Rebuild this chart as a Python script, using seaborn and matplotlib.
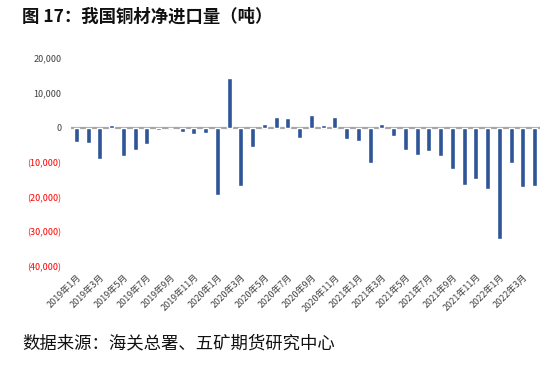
import matplotlib
matplotlib.use("Agg")
import matplotlib.pyplot as plt
import seaborn as sns
import pandas as pd
from matplotlib.ticker import FuncFormatter

months = [f"{y}年{m}月" for y in (2019, 2020, 2021) for m in range(1, 13)] + [f"2022年{m}月" for m in range(1, 5)]
values = [-4000, -4500, -9000, 800, -8100, -6400, -4800, -600, -100, -1300, -1800, -1600,
          -19300, 14300, -16800, -5600, 1000, 3000, 2900, -3000, 3700, 900, 3200, -3300,
          -3800, -10000, 1000, -2300, -6400, -7800, -6700, -8100, -11800, -16400, -14600, -17600,
          -31900, -10200, -17000, -16700]
yticks = [20000, 10000, 0, -10000, -20000, -30000, -40000]

sns.set_theme(style="white")
plt.rcParams['font.family'] = ['Noto Sans CJK SC', 'DejaVu Sans']

df = pd.DataFrame({"month": months, "value": values})

fig = plt.figure(figsize=(5.56, 3.66), dpi=100)
ax = fig.add_axes([0.128, 0.2705, 0.843, 0.571])
sns.barplot(data=df, x="month", y="value", order=months, color="#2E5597",
            width=0.42, saturation=1, ax=ax)
ax.axhline(0, color="#A6A6A6", lw=1.6, zorder=0.5)
ax.set_xlim(-0.45, len(months) - 0.55)
ax.set_ylim(-40000, 20000)
ax.set_yticks(yticks)

def fmt(v, pos):
    if v < 0:
        return f"({abs(int(v)):,})"
    return f"{int(v):,}"
ax.yaxis.set_major_formatter(FuncFormatter(fmt))
for lbl, v in zip(ax.get_yticklabels(), yticks):
    lbl.set_color("#FF0000" if v < 0 else "#404040")
ax.tick_params(axis="y", labelsize=6.5, length=0, pad=7)

ax.set_xticks(range(0, len(months), 2))
ax.set_xticklabels(months[::2], rotation=45, ha="right", rotation_mode="anchor",
                   fontsize=6.5, color="#404040")
ax.tick_params(axis="x", length=0, pad=4)
for s in ax.spines.values():
    s.set_visible(False)
ax.set_xlabel("")
ax.set_ylabel("")

fig.text(0.04, 0.955, "图 17：我国铜材净进口量（吨）", fontsize=12.5, fontweight="bold",
         va="center", ha="left", color="#111111")
fig.text(0.04, 0.062, "数据来源：海关总署、五矿期货研究中心", fontsize=12.5,
         va="center", ha="left", color="#111111")

fig.savefig("out.png", dpi=100)
